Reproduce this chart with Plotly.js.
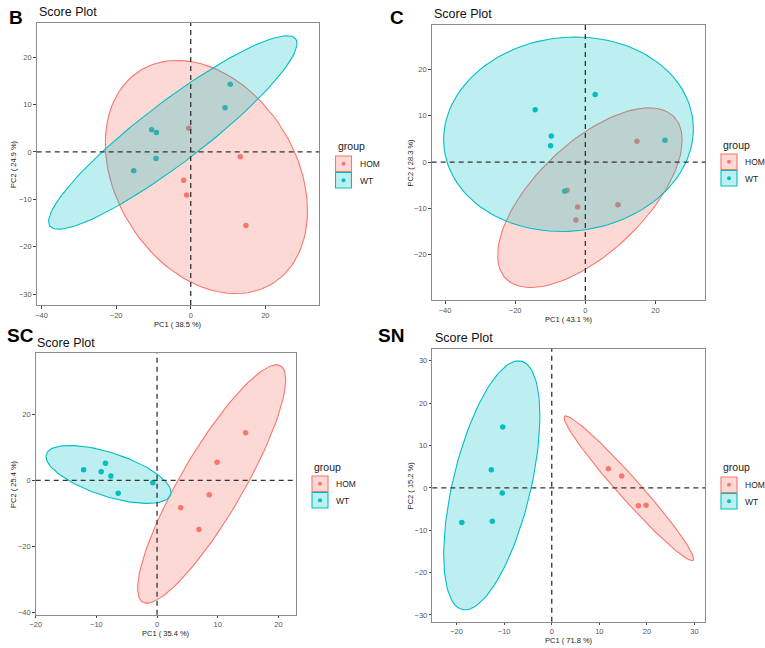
<!DOCTYPE html>
<html>
<head>
<meta charset="utf-8">
<script src="https://cdn.plot.ly/plotly-3.0.1.min.js"></script>
<style>html,body{margin:0;padding:0;background:#fff}#chart{width:765px;height:648px}</style>
</head>
<body>
<div id="chart"></div>
<script>
'use strict';

// groups (ggplot default hues)
var groups = ['HOM', 'WT'];
var groupColors = ['#F8766D', '#00BFC4'];
var groupFills = ['rgba(248,118,109,0.28)', 'rgba(0,191,196,0.26)'];

// panels
var panelLabels = ['B', 'C', 'SC', 'SN'];
var pc1Titles = ['PC1 ( 38.5 %)', 'PC1 ( 43.1 %)', 'PC1 ( 35.4 %)', 'PC1 ( 71.8 %)'];
var pc2Titles = ['PC2 ( 24.9 %)', 'PC2 ( 28.3 %)', 'PC2 ( 25.4 %)', 'PC2 ( 15.2 %)'];
var xTicks = [[-40, -20, 0, 20], [-40, -20, 0, 20], [-20, -10, 0, 10, 20], [-20, -10, 0, 10, 20, 30]];
var yTicks = [[-30, -20, -10, 0, 10, 20], [-20, -10, 0, 10, 20], [-40, -20, 0, 20], [-30, -20, -10, 0, 10, 20, 30]];

// scores, one list per panel
var homPC1 = [[-0.5, 13.3, -1.9, -1.1, 14.8], [14.7, -5.2, -2.2, -2.7, 9.3], [14.6, 9.9, 8.6, 3.9, 6.9], [11.9, 14.7, 18.2, 19.8]];
var homPC2 = [[5.0, -1.0, -6.0, -9.1, -15.5], [4.5, -6.1, -9.7, -12.5, -9.2], [14.5, 5.5, -4.4, -8.3, -14.9], [4.5, 2.8, -4.2, -4.1]];
var wtPC1 = [[10.6, 9.2, -10.5, -9.2, -9.3, -15.3], [-14.3, 2.8, -9.7, -9.9, 22.7, -5.9], [-12.1, -8.5, -9.2, -7.6, -6.4, -0.7], [-10.3, -12.7, -10.4, -12.5, -18.9]];
var wtPC2 = [[14.3, 9.3, 4.7, 4.1, -1.4, -4.0], [11.3, 14.6, 5.6, 3.5, 4.7, -6.3], [3.2, 5.2, 2.6, 1.3, -3.9, -0.7], [14.4, 4.3, -1.2, -7.9, -8.2]];

// 95% ellipses: [centre PC1, centre PC2, half width, half height, correlation]
var homEllipse = [[4.2, -5.3, 27.1, 24.6, -0.29], [1.3, -7.7, 26.3, 19.4, 0.64], [9.0, -1.1, 12.2, 36.2, 0.875], [16.2, -0.1, 13.6, 17.1, -0.975]];
var wtEllipse = [[-4.8, 4.1, 33.3, 20.4, 0.92], [-4.8, 6.0, 35.6, 21.0, 0.055], [-8.0, 1.8, 10.3, 8.8, -0.62], [-12.6, 0.6, 10.1, 29.4, 0.555]];

// axis ranges
var xRanges = [[-41.3, 34.4], [-43.8, 34.2], [-20.0, 22.9], [-25.1, 32.2]];
var yRanges = [[-32.3, 27.2], [-29.8, 29.6], [-40.8, 38.6], [-31.6, 32.8]];

// layout in pixels: panel frame [left, top, right, bottom]
var W = 765, H = 648;
var frames = [[36.7, 23, 319, 305], [431.7, 25, 705.3, 300], [35.7, 353.3, 296, 614.7], [432.3, 349, 705, 621.7]];
var labelPos = [[7, 17], [388, 17], [5, 335], [376, 335]];
var titlePos = [[36.5, 11.5], [431.5, 14], [35, 342.5], [432.5, 337.5]];
var ytitleX = [13, 410, 13, 410];
var legendPos = [[335.5, 146, 156], [721, 145, 154], [312, 467, 476], [721, 467, 477]];

function px(x) { return x / W; }
function py(y) { return 1 - y / H; }

function ellipse(p) {
    var phi = Math.acos(p[4]);
    var xs = [], ys = [];
    for (var i = 0; i <= 120; i++) {
        var t = 2 * Math.PI * i / 120;
        xs.push(p[0] + p[2] * Math.cos(t));
        ys.push(p[1] + p[3] * Math.cos(t - phi));
    }
    return {x: xs, y: ys};
}

var traces = [];
var shapes = [];
var annotations = [];
var layout = {
    width: W, height: H,
    margin: {l: 0, r: 0, t: 0, b: 0},
    paper_bgcolor: '#fff',
    plot_bgcolor: '#fff',
    showlegend: false,
    font: {family: 'Liberation Sans, Arial, sans-serif', color: '#222'}
};

for (var k = 0; k < 4; k++) {
    var sx = k === 0 ? '' : String(k + 1);
    var xa = 'x' + sx, ya = 'y' + sx;
    var fr = frames[k];
    var axisCommon = {
        showgrid: false, zeroline: false,
        showline: true, mirror: true, linecolor: '#8c8c8c', linewidth: 1,
        ticks: 'outside', ticklen: 2.5, tickcolor: '#444', tickwidth: 1,
        tickfont: {size: 7.5, color: '#555'}
    };
    layout['xaxis' + sx] = Object.assign({}, axisCommon, {
        domain: [px(fr[0]), px(fr[2])], range: xRanges[k],
        tickmode: 'array', tickvals: xTicks[k], anchor: ya
    });
    layout['yaxis' + sx] = Object.assign({}, axisCommon, {
        domain: [py(fr[3]), py(fr[1])], range: yRanges[k],
        tickmode: 'array', tickvals: yTicks[k], anchor: xa
    });

    var pcs = [[homPC1[k], homPC2[k]], [wtPC1[k], wtPC2[k]]];
    var ells = [homEllipse[k], wtEllipse[k]];
    // points first, ellipses drawn over them
    for (var g = 0; g < 2; g++) {
        traces.push({
            type: 'scatter', mode: 'markers', xaxis: xa, yaxis: ya,
            x: pcs[g][0], y: pcs[g][1], name: groups[g],
            marker: {color: groupColors[g], size: 5.5}
        });
    }
    for (g = 0; g < 2; g++) {
        var el = ellipse(ells[g]);
        traces.push({
            type: 'scatter', mode: 'lines', xaxis: xa, yaxis: ya,
            x: el.x, y: el.y, fill: 'toself', fillcolor: groupFills[g],
            line: {color: groupColors[g], width: 1.1}, hoverinfo: 'skip'
        });
    }

    // reference lines at 0
    shapes.push({type: 'line', xref: xa, yref: ya + ' domain', x0: 0, x1: 0, y0: 0, y1: 1,
        line: {color: '#333', width: 1.3, dash: '5px,4px'}});
    shapes.push({type: 'line', xref: xa + ' domain', yref: ya, x0: 0, x1: 1, y0: 0, y1: 0,
        line: {color: '#333', width: 1.3, dash: '5px,4px'}});

    // panel letter and title
    annotations.push({xref: 'paper', yref: 'paper', x: px(labelPos[k][0]), y: py(labelPos[k][1]),
        xanchor: 'left', yanchor: 'middle', showarrow: false, text: '<b>' + panelLabels[k] + '</b>',
        font: {size: 19, color: '#000'}});
    annotations.push({xref: 'paper', yref: 'paper', x: px(titlePos[k][0]), y: py(titlePos[k][1]),
        xanchor: 'left', yanchor: 'middle', showarrow: false, text: 'Score Plot',
        font: {size: 12.5, color: '#111'}});
    // axis titles
    annotations.push({xref: 'paper', yref: 'paper', x: px((fr[0] + fr[2]) / 2), y: py(fr[3] + 19),
        xanchor: 'center', yanchor: 'middle', showarrow: false, text: pc1Titles[k],
        font: {size: 7.5, color: '#222'}});
    annotations.push({xref: 'paper', yref: 'paper', x: px(ytitleX[k]), y: py((fr[1] + fr[3]) / 2),
        xanchor: 'center', yanchor: 'middle', showarrow: false, text: pc2Titles[k], textangle: -90,
        font: {size: 7.5, color: '#222'}});

    // legend
    var lp = legendPos[k];
    annotations.push({xref: 'paper', yref: 'paper', x: px(lp[0]), y: py(lp[1]),
        xanchor: 'left', yanchor: 'middle', showarrow: false, text: 'group',
        font: {size: 10.5, color: '#222'}});
    for (g = 0; g < 2; g++) {
        var keyTop = lp[2] + g * 16.5;
        shapes.push({type: 'rect', xref: 'paper', yref: 'paper',
            x0: px(lp[0]), x1: px(lp[0] + 16), y0: py(keyTop), y1: py(keyTop + 15.5),
            fillcolor: groupFills[g], line: {color: groupColors[g], width: 1.1}});
        shapes.push({type: 'circle', xref: 'paper', yref: 'paper',
            x0: px(lp[0] + 6), x1: px(lp[0] + 10), y0: py(keyTop + 5.75), y1: py(keyTop + 9.75),
            fillcolor: groupColors[g], line: {width: 0}});
        annotations.push({xref: 'paper', yref: 'paper', x: px(lp[0] + 22), y: py(keyTop + 8),
            xanchor: 'left', yanchor: 'middle', showarrow: false, text: groups[g],
            font: {size: 8.5, color: '#222'}});
    }
}

layout.shapes = shapes;
layout.annotations = annotations;

Plotly.newPlot('chart', traces, layout, {staticPlot: true});
</script>
</body>
</html>
